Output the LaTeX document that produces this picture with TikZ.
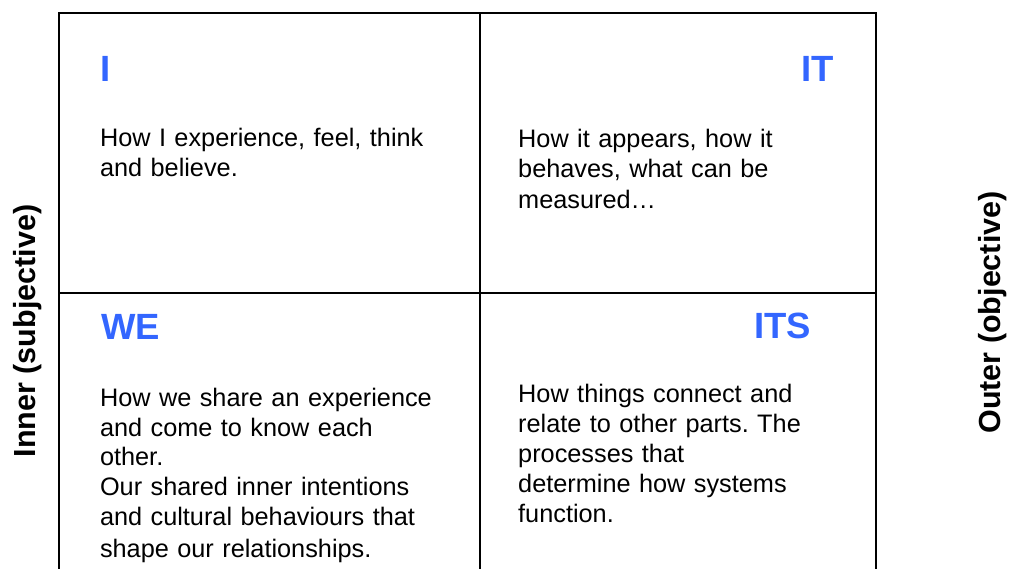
\documentclass[tikz,border=0pt]{standalone}
\usepackage{fontspec}
\setmainfont{Liberation Sans}
\definecolor{quadblue}{RGB}{51,102,255}
\begin{document}
\frenchspacing
\begin{tikzpicture}[x=1pt,y=-1pt,
  grid/.style={line width=2pt, draw=black},
  heading/.style={inner sep=0pt, text=quadblue,
    font=\fontsize{36.5}{40}\selectfont\bfseries},
  body/.style={inner sep=0pt, anchor=base west, align=left, text width=360pt},
  axislabel/.style={inner sep=0pt, anchor=base, rotate=90,
    font=\fontsize{30.5}{34}\selectfont\bfseries}]
\useasboundingbox (0,0) rectangle (1009,569);

% quadrant frame, open at the bottom
\coordinate (lb) at (58.5,569);
\coordinate (lt) at (58.5,13.5);
\coordinate (rt) at (876,13.5);
\coordinate (rb) at (876,569);
\coordinate (mt) at (479.5,13.5);
\coordinate (mb) at (479.5,569);
\coordinate (ml) at (58.5,293.5);
\coordinate (mr) at (876,293.5);
\draw[grid] (lb) -- (lt) -- (rt) -- (rb);
\draw[grid] (mt) -- (mb);
\draw[grid] (ml) -- (mr);

% quadrant headings
\node[heading, anchor=base west] (hI) at (100,81.7) {I};
\node[heading, anchor=base east] (hIT) at (834,81.7) {IT};
\node[heading, anchor=base west] (hWE) at (101,339) {WE};
\node[heading, anchor=base east] (hITS) at (811,338.5) {ITS};

% quadrant descriptions
\node[body, font=\fontsize{25.3}{30}\selectfont] (tI) at (99.8,147)
  {How I experience, feel, think\\and believe.};
\node[body, font=\fontsize{25.3}{30.6}\selectfont] (tIT) at (518,147.3)
  {How it appears, how it\\behaves, what can be\\measured…};
\node[body, font=\fontsize{25.3}{29.6}\selectfont] (tWE) at (99.8,406.7)
  {How we share an experience\\and come to know each\\other.\\Our shared inner intentions\\and cultural behaviours that\\[2.5pt]shape our relationships.};
\node[body, font=\fontsize{25.3}{30}\selectfont] (tITS) at (518,402.3)
  {How things connect and\\relate to other parts. The\\processes that\\determine how systems\\function.};

% side axis labels
\node[axislabel] (inner) at (35.7,331) {Inner (subjective)};
\node[axislabel] (outer) at (1000,312.5) {Outer (objective)};
\end{tikzpicture}
\end{document}
